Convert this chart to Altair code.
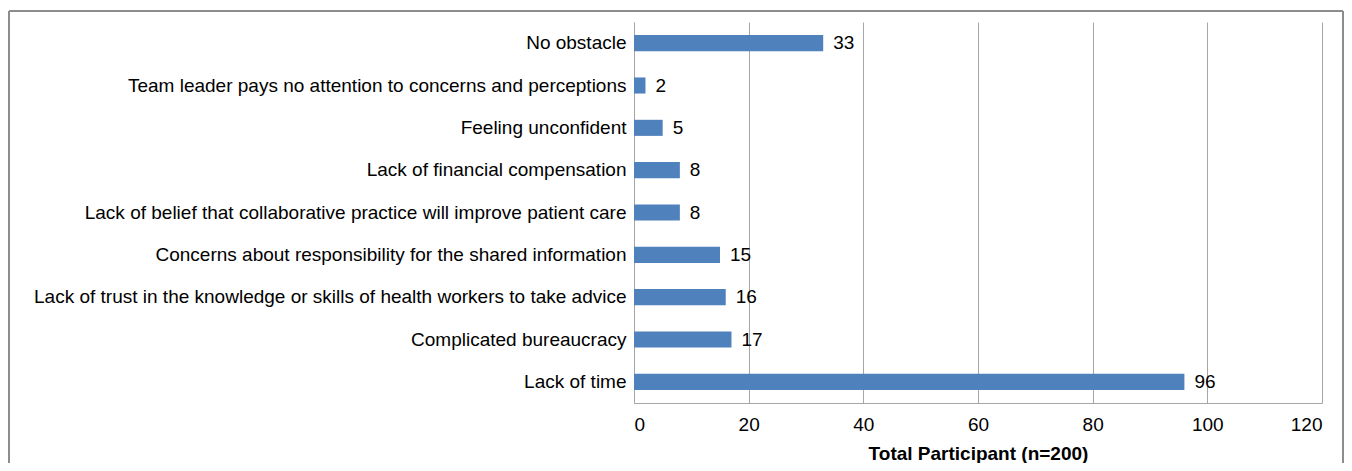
import altair as alt
import pandas as pd

categories = [
    "No obstacle",
    "Team leader pays no attention to concerns and perceptions",
    "Feeling unconfident",
    "Lack of financial compensation",
    "Lack of belief that collaborative practice will improve patient care",
    "Concerns about responsibility for the shared information",
    "Lack of trust in the knowledge or skills of health workers to take advice",
    "Complicated bureaucracy",
    "Lack of time",
]
values = [33, 2, 5, 8, 8, 15, 16, 17, 96]
x_ticks = [0, 20, 40, 60, 80, 100, 120]

df = pd.DataFrame({"cat": categories, "val": values})

FONT = "Liberation Sans"
FS = 19

x = alt.X("val:Q", scale=alt.Scale(domain=[0, 120], nice=False),
          axis=alt.Axis(values=x_ticks, title="Total Participant (n=200)",
                        grid=True, gridColor="#a6a6a6", gridWidth=1,
                        domainColor="#a6a6a6", ticks=False,
                        labelFontSize=FS, labelColor="#000000", labelPadding=12,
                        labelFont=FONT, titleFont=FONT, titleFontSize=FS,
                        titleFontWeight="bold", titleColor="#000000", titlePadding=10))
y = alt.Y("cat:N", sort=categories,
          scale=alt.Scale(paddingInner=0.62, paddingOuter=0.31),
          axis=alt.Axis(title=None, ticks=False, domainColor="#a6a6a6",
                        labelFontSize=FS, labelColor="#000000", labelFont=FONT,
                        labelPadding=8, labelLimit=700))

bars = alt.Chart(df).mark_bar(color="#4f81bd").encode(x=x, y=y)
labels = alt.Chart(df).mark_text(align="left", baseline="middle", dx=10,
                                 fontSize=FS, font=FONT, color="#000000").encode(
    x="val:Q", y=alt.Y("cat:N", sort=categories), text="val:Q")

border = alt.Chart(df).mark_rect(fill=None, stroke="#8c8c8c", strokeWidth=1, clip=False).encode(
    x=alt.value(-625), x2=alt.value(709), y=alt.value(-11), y2=alt.value(470))

chart = alt.layer(border, bars, labels).properties(
    width=688, height=381,
    autosize=alt.AutoSizeParams(type="none"),
    padding={"left": 626, "top": 14, "right": 22, "bottom": 60},
).configure_view(stroke=None)

chart.save("out.html", embed_options={"renderer": "svg", "actions": False})
